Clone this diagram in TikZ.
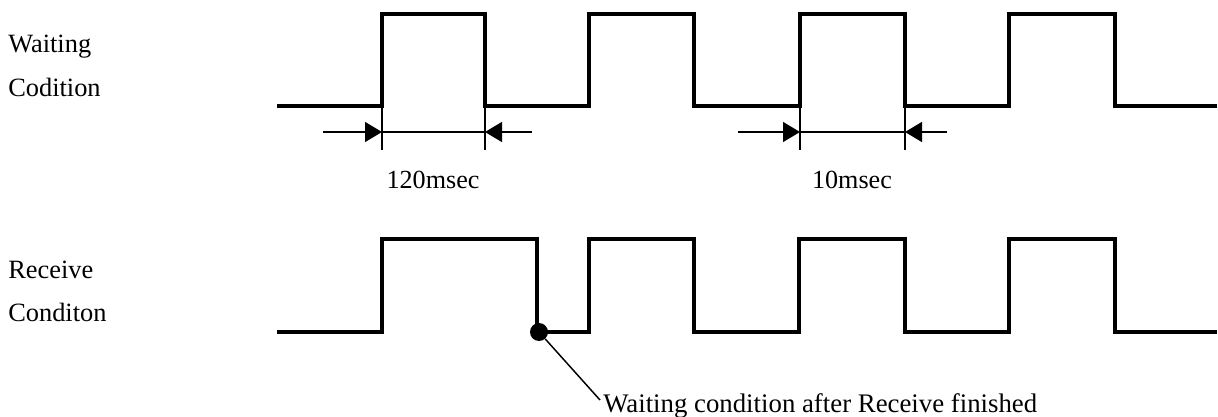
\documentclass[tikz,border=0pt]{standalone}
\usepackage{fontspec}
\setmainfont{Liberation Serif}
\usetikzlibrary{arrows.meta}
\begin{document}
\begin{tikzpicture}[x=0.75pt,y=-0.75pt,
  wave/.style={line width=3pt, line join=miter},
  thin line/.style={line width=1.1pt},
  dimarrow/.style={thin line, -{Triangle[length=12.75pt,width=15pt]}},
  lbl/.style={font=\fontsize{19.8pt}{23pt}\selectfont, inner sep=0pt, anchor=base west},
  clbl/.style={font=\fontsize{19.6pt}{23pt}\selectfont, inner sep=0pt, anchor=base},
  marker/.style={circle, fill=black, inner sep=0pt, minimum size=13.5pt}]
\useasboundingbox (0,0) rectangle (1218,417);

% signal names
\node[lbl] (w1) at (8,53) {Waiting};
\node[lbl] (w2) at (8,97) {Codition};
\node[lbl] (r1) at (8,278) {Receive};
\node[lbl] (r2) at (8,321) {Conditon};

% waiting condition waveform
\draw[wave] (277,106) -| (382,14) -| (485,106) -| (589,14) -| (694,106)
  -| (800,14) -| (905,106) -| (1009,14) -| (1115,106) -- (1217,106);

% receive condition waveform
\draw[wave] (277,332) -| (382,239) -| (537,332) -| (589,239) -| (694,332)
  -| (799,239) -| (905,332) -| (1009,239) -| (1115,332) -- (1217,332);

% 120 msec dimension
\coordinate (a1) at (382,132);
\coordinate (a2) at (485,132);
\draw[thin line] (382,106) -- (382,150);
\draw[thin line] (485,106) -- (485,150);
\draw[dimarrow] (323,132) -- (a1);
\draw[thin line] (a1) -- (a2);
\draw[dimarrow] (532,132) -- (a2);
\node[clbl] (t1) at (433,189) {120msec};

% 10 msec dimension
\coordinate (b1) at (800,132);
\coordinate (b2) at (905,132);
\draw[thin line] (800,106) -- (800,150);
\draw[thin line] (905,106) -- (905,150);
\draw[dimarrow] (738,132) -- (b1);
\draw[thin line] (b1) -- (b2);
\draw[dimarrow] (947,132) -- (b2);
\node[clbl] (t2) at (852,189) {10msec};

% note on the end of receiving
\node[marker] (dot) at (539,332) {};
\coordinate (lead) at (600,400);
\node[lbl, font=\fontsize{20.1pt}{23pt}\selectfont] (note) at (603,412) {Waiting condition after Receive finished};
\draw[thin line] (dot) -- (lead);
\end{tikzpicture}
\end{document}
